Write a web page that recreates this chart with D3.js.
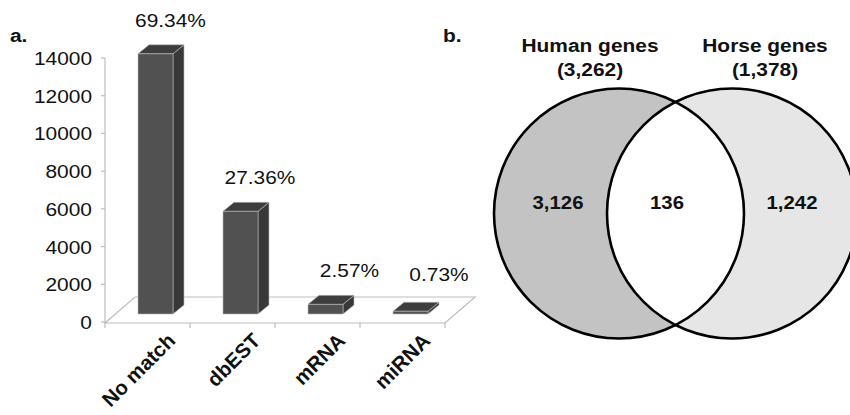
<!DOCTYPE html>
<html><head><meta charset="utf-8">
<script src="https://cdn.jsdelivr.net/npm/d3@7"></script>
<style>html,body{margin:0;padding:0;background:#fff;} svg{display:block;}</style>
</head><body>
<script>
// ---- data ----
const categories = ["No match", "dbEST", "mRNA", "miRNA"];
const counts = [13800, 5445, 511, 145];
const percentLabels = ["69.34%", "27.36%", "2.57%", "0.73%"];
const yTicks = [0, 2000, 4000, 6000, 8000, 10000, 12000, 14000];
const vennSets = ["Human genes", "Horse genes"];
const vennTotals = ["(3,262)", "(1,378)"];
const vennRegions = ["3,126", "136", "1,242"];

const W = 850, H = 415;
const svg = d3.select("body").append("svg").attr("width", W).attr("height", H);
const FONT = "'Liberation Sans', Arial, Helvetica, sans-serif";
const SX = 1.1; // horizontal stretch of the original image text

function stext(g, x, y, str, size, weight, anchor) {
  return g.append("text")
    .attr("transform", `translate(${x},${y}) scale(${SX},1)`)
    .attr("font-family", FONT).attr("font-size", size).attr("font-weight", weight || "normal")
    .attr("text-anchor", anchor || "middle").attr("fill", "#111").text(str);
}

// ---- panel a: 3D-style column chart ----
const ga = svg.append("g");
const x = d3.scaleBand().domain(categories).range([105, 445]).paddingInner(0).paddingOuter(0);
const y = d3.scaleLinear().domain([0, 14000]).range([322, 58]);
const floorD = [30, -26];   // floor depth offset
const barOff = [8, -8];     // bar front plane offset from axis plane
const barD = [11, -9];      // bar depth
const barW = 35;

// floor parallelogram
const x0 = x.range()[0], x1 = x.range()[1], yb = y(0) + 1;
ga.append("path")
  .attr("d", `M${x0},${yb} L${x1},${yb} L${x1 + floorD[0]},${yb + floorD[1]} L${x0 + floorD[0]},${yb + floorD[1]} Z`)
  .attr("fill", "none").attr("stroke", "#bdbdbd").attr("stroke-width", 1.2);

// y axis
ga.append("line").attr("x1", x0).attr("x2", x0).attr("y1", y(0) + 1).attr("y2", y(14000))
  .attr("stroke", "#bdbdbd").attr("stroke-width", 1.2);
yTicks.forEach(t => {
  ga.append("line").attr("x1", x0 - 4).attr("x2", x0).attr("y1", y(t)).attr("y2", y(t))
    .attr("stroke", "#bdbdbd").attr("stroke-width", 1.2);
  stext(ga, x0 - 13, y(t) + 7, d3.format("d")(t), 19, "normal", "end");
});
// x ticks
[...categories.map(c => x(c)), x1].forEach(px => {
  ga.append("line").attr("x1", px).attr("x2", px).attr("y1", yb).attr("y2", yb + 5)
    .attr("stroke", "#bdbdbd").attr("stroke-width", 1.2);
});

// bars
categories.forEach((c, i) => {
  const v = counts[i];
  const fx = x(c) + (x.bandwidth() - barW) / 2 + barOff[0];
  const fb = y(0) + barOff[1];
  const ft = y(v) + barOff[1];
  const g = ga.append("g").attr("stroke", "#bbbbbb").attr("stroke-width", 0.6).attr("stroke-linejoin", "round");
  // side
  g.append("path").attr("d",
    `M${fx + barW},${fb} L${fx + barW + barD[0]},${fb + barD[1]} L${fx + barW + barD[0]},${ft + barD[1]} L${fx + barW},${ft} Z`)
    .attr("fill", "#383838");
  // top
  g.append("path").attr("d",
    `M${fx},${ft} L${fx + barD[0]},${ft + barD[1]} L${fx + barW + barD[0]},${ft + barD[1]} L${fx + barW},${ft} Z`)
    .attr("fill", "#3d3d3d");
  // front
  g.append("rect").attr("x", fx).attr("y", ft).attr("width", barW).attr("height", Math.max(0, fb - ft))
    .attr("fill", "#515151");
  // percent label
  const ly = Math.min(ft + barD[1] - 18, 281);
  stext(ga, fx + barW / 2 + 15 + i * 4.5, ly, percentLabels[i], 19, "normal", "middle");
  // category label
  const cx = x(c) + x.bandwidth() / 2;
  ga.append("text")
    .attr("transform", `translate(${cx + 29},${yb + 19}) rotate(-45)`)
    .attr("font-family", FONT).attr("font-size", 20.5).attr("font-weight", "bold")
    .attr("text-anchor", "end").attr("fill", "#111").text(c);
});

stext(ga, 10, 42, "a.", 19, "bold", "start");

// ---- panel b: Venn diagram ----
const gb = svg.append("g");
const vr = 125;
const vcx = d3.scaleOrdinal().domain(vennSets).range([619, 732]);
const vcy = 213.5;

const defs = svg.append("defs");
defs.append("clipPath").attr("id", "clipRight")
  .append("circle").attr("cx", vcx(vennSets[1])).attr("cy", vcy).attr("r", vr);

const fills = ["#c3c3c3", "#e6e6e6"];
vennSets.forEach((s, i) => {
  gb.append("circle").attr("cx", vcx(s)).attr("cy", vcy).attr("r", vr).attr("fill", fills[i]);
});
gb.append("circle").attr("cx", vcx(vennSets[0])).attr("cy", vcy).attr("r", vr)
  .attr("fill", "#ffffff").attr("clip-path", "url(#clipRight)");
vennSets.forEach((s, i) => {
  gb.append("circle").attr("cx", vcx(s)).attr("cy", vcy).attr("r", vr)
    .attr("fill", "none").attr("stroke", "#000").attr("stroke-width", 2.6);
});

// titles
const titleX = [590, 765];
vennSets.forEach((s, i) => {
  stext(gb, titleX[i], 52, s, 19, "bold", "middle");
  stext(gb, titleX[i], 76, vennTotals[i], 19, "bold", "middle");
});
// region counts
const regionX = [558, 667, 792];
vennRegions.forEach((r, i) => {
  stext(gb, regionX[i], 209, r, 18.5, "bold", "middle");
});

stext(gb, 443, 42, "b.", 19, "bold", "start");
</script>
</body></html>
